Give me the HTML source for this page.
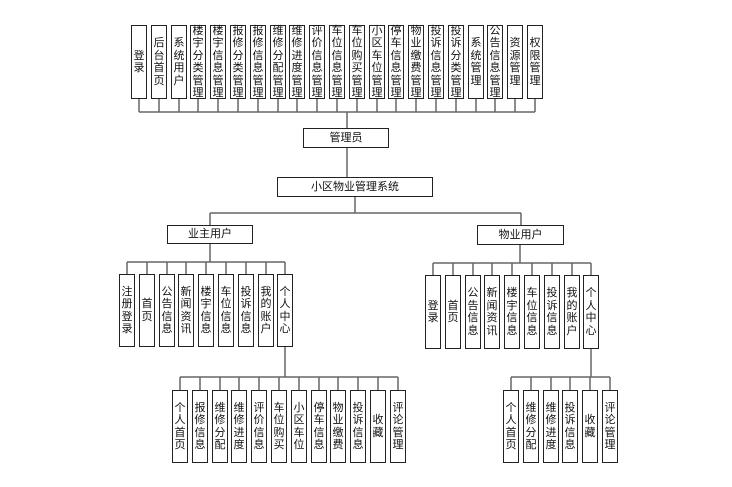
<!DOCTYPE html>
<html><head><meta charset="utf-8"><style>
body{margin:0;width:732px;height:487px;background:#fff;position:relative;overflow:hidden;font-family:"Liberation Sans","Noto Sans CJK SC",sans-serif;}
.b{position:absolute;box-sizing:border-box;border:1.5px solid #222;background:#fff;display:flex;align-items:center;justify-content:center;text-align:center;font-size:11px;line-height:12.5px;color:#111;}
.v{width:16px;}
.t{top:25px;height:74px;}
.o{top:274px;height:73px;}
.p{top:275px;height:74px;}
.s{top:390px;height:73px;}
svg{position:absolute;left:0;top:0;}
</style></head><body>
<svg width="732" height="487"><g stroke="#666" stroke-width="1.5" fill="none">
<path d="M139 99V112M159 99V112M179 99V112M198 99V112M218 99V112M238 99V112M258 99V112M278 99V112M297 99V112M317 99V112M337 99V112M357 99V112M377 99V112M396 99V112M416 99V112M436 99V112M456 99V112M476 99V112M495 99V112M515 99V112M535 99V112M139 112H535M347 112V128"/>
<path d="M347 148V177M355 197V213M210 213H521M210 213V225M521 213V225"/>
<path d="M210 244V262M127 262H285M127 262V274M147 262V274M167 262V274M186 262V274M206 262V274M226 262V274M246 262V274M266 262V274M285 262V274"/>
<path d="M520 245V263M433 263H591M433 263V275M453 263V275M473 263V275M492 263V275M512 263V275M532 263V275M552 263V275M572 263V275M591 263V275"/>
<path d="M285 347V377M180 377H398M180 377V390M200 377V390M220 377V390M239 377V390M259 377V390M279 377V390M299 377V390M319 377V390M338 377V390M358 377V390M378 377V390M398 377V390"/>
<path d="M591 349V377M511 377H610M511 377V390M531 377V390M551 377V390M570 377V390M590 377V390M610 377V390"/>
</g></svg>
<div class="b v t" style="left:131px">登<br>录</div>
<div class="b v t" style="left:151px">后<br>台<br>首<br>页</div>
<div class="b v t" style="left:171px">系<br>统<br>用<br>户</div>
<div class="b v t" style="left:190px">楼<br>宇<br>分<br>类<br>管<br>理</div>
<div class="b v t" style="left:210px">楼<br>宇<br>信<br>息<br>管<br>理</div>
<div class="b v t" style="left:230px">报<br>修<br>分<br>类<br>管<br>理</div>
<div class="b v t" style="left:250px">报<br>修<br>信<br>息<br>管<br>理</div>
<div class="b v t" style="left:270px">维<br>修<br>分<br>配<br>管<br>理</div>
<div class="b v t" style="left:289px">维<br>修<br>进<br>度<br>管<br>理</div>
<div class="b v t" style="left:309px">评<br>价<br>信<br>息<br>管<br>理</div>
<div class="b v t" style="left:329px">车<br>位<br>信<br>息<br>管<br>理</div>
<div class="b v t" style="left:349px">车<br>位<br>购<br>买<br>管<br>理</div>
<div class="b v t" style="left:369px">小<br>区<br>车<br>位<br>管<br>理</div>
<div class="b v t" style="left:388px">停<br>车<br>信<br>息<br>管<br>理</div>
<div class="b v t" style="left:408px">物<br>业<br>缴<br>费<br>管<br>理</div>
<div class="b v t" style="left:428px">投<br>诉<br>信<br>息<br>管<br>理</div>
<div class="b v t" style="left:448px">投<br>诉<br>分<br>类<br>管<br>理</div>
<div class="b v t" style="left:468px">系<br>统<br>管<br>理</div>
<div class="b v t" style="left:487px">公<br>告<br>信<br>息<br>管<br>理</div>
<div class="b v t" style="left:507px">资<br>源<br>管<br>理</div>
<div class="b v t" style="left:527px">权<br>限<br>管<br>理</div>

<div class="b" style="left:303px;top:128px;width:86px;height:20px">管理员</div>
<div class="b" style="left:277px;top:177px;width:156px;height:20px">小区物业管理系统</div>
<div class="b" style="left:167px;top:225px;width:86px;height:19px">业主用户</div>
<div class="b" style="left:477px;top:225px;width:87px;height:20px">物业用户</div>

<div class="b v o" style="left:119px">注<br>册<br>登<br>录</div>
<div class="b v o" style="left:139px">首<br>页</div>
<div class="b v o" style="left:159px">公<br>告<br>信<br>息</div>
<div class="b v o" style="left:178px">新<br>闻<br>资<br>讯</div>
<div class="b v o" style="left:198px">楼<br>宇<br>信<br>息</div>
<div class="b v o" style="left:218px">车<br>位<br>信<br>息</div>
<div class="b v o" style="left:238px">投<br>诉<br>信<br>息</div>
<div class="b v o" style="left:258px">我<br>的<br>账<br>户</div>
<div class="b v o" style="left:277px">个<br>人<br>中<br>心</div>

<div class="b v p" style="left:425px">登<br>录</div>
<div class="b v p" style="left:445px">首<br>页</div>
<div class="b v p" style="left:465px">公<br>告<br>信<br>息</div>
<div class="b v p" style="left:484px">新<br>闻<br>资<br>讯</div>
<div class="b v p" style="left:504px">楼<br>宇<br>信<br>息</div>
<div class="b v p" style="left:524px">车<br>位<br>信<br>息</div>
<div class="b v p" style="left:544px">投<br>诉<br>信<br>息</div>
<div class="b v p" style="left:564px">我<br>的<br>账<br>户</div>
<div class="b v p" style="left:583px">个<br>人<br>中<br>心</div>

<div class="b v s" style="left:172px">个<br>人<br>首<br>页</div>
<div class="b v s" style="left:192px">报<br>修<br>信<br>息</div>
<div class="b v s" style="left:212px">维<br>修<br>分<br>配</div>
<div class="b v s" style="left:231px">维<br>修<br>进<br>度</div>
<div class="b v s" style="left:251px">评<br>价<br>信<br>息</div>
<div class="b v s" style="left:271px">车<br>位<br>购<br>买</div>
<div class="b v s" style="left:291px">小<br>区<br>车<br>位</div>
<div class="b v s" style="left:311px">停<br>车<br>信<br>息</div>
<div class="b v s" style="left:330px">物<br>业<br>缴<br>费</div>
<div class="b v s" style="left:350px">投<br>诉<br>信<br>息</div>
<div class="b v s" style="left:370px">收<br>藏</div>
<div class="b v s" style="left:390px">评<br>论<br>管<br>理</div>

<div class="b v s" style="left:503px">个<br>人<br>首<br>页</div>
<div class="b v s" style="left:523px">维<br>修<br>分<br>配</div>
<div class="b v s" style="left:543px">维<br>修<br>进<br>度</div>
<div class="b v s" style="left:562px">投<br>诉<br>信<br>息</div>
<div class="b v s" style="left:582px">收<br>藏</div>
<div class="b v s" style="left:602px">评<br>论<br>管<br>理</div>
</body></html>
